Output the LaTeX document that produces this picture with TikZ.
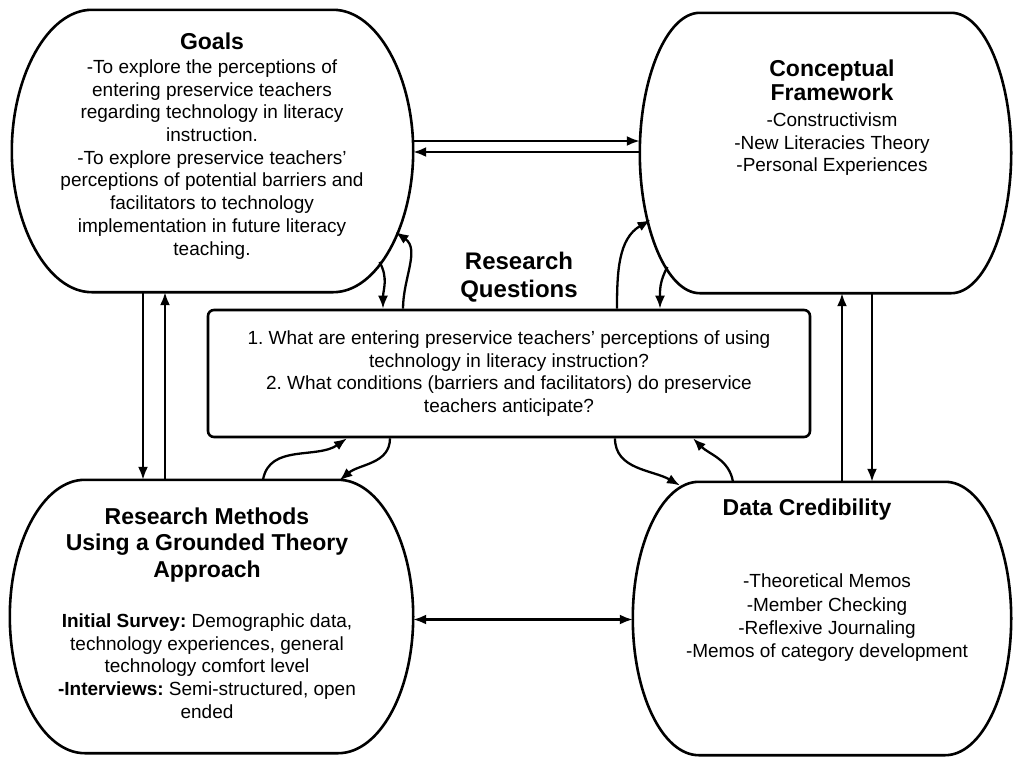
\documentclass[tikz,border=0pt]{standalone}
\usepackage{fontspec}
\setmainfont{Liberation Sans}
\usetikzlibrary{arrows.meta}
\newcommand{\boxhead}{\fontsize{23}{26}\selectfont\bfseries}
% outline of a bubble: #1 node name, #2 length of the rounded part
\newcommand{\drawbubble}[2]{%
	\draw [bubbleline] ([xshift=#2]#1.north west) -- ([xshift=-#2]#1.north east)
		.. controls +(0.55*#2,0) and +(0,75pt) .. (#1.east)
		.. controls +(0,-75pt) and +(0.55*#2,0) .. ([xshift=-#2]#1.south east)
		-- ([xshift=#2]#1.south west)
		.. controls +(-0.55*#2,0) and +(0,-75pt) .. (#1.west)
		.. controls +(0,75pt) and +(-0.55*#2,0) .. cycle;}
\frenchspacing
\begin{document}
\begin{tikzpicture}[>={Latex[length=13pt,width=10pt]}, x=1pt, y=1pt,
	bubble/.style={inner sep=0pt},
	bubbleline/.style={line width=2.6pt},
	qbox/.style={draw, line width=2.6pt, rounded corners=6pt, inner sep=0pt, align=center, font=\fontsize{19}{22.6}\selectfont},
	txt/.style={align=center, inner sep=0pt, font=\fontsize{19}{22.7}\selectfont},
	link/.style={line width=2.3pt}]
		\useasboundingbox (0,0) rectangle (1013,-758);

		\node (goals) [bubble, minimum width=401pt, minimum height=282pt] at (212.5,-151) {};
		\node (frame) [bubble, minimum width=371pt, minimum height=280pt] at (825.5,-153) {};
		\node (methods) [bubble, minimum width=403pt, minimum height=273pt] at (211.5,-616.5) {};
		\node (cred) [bubble, minimum width=378pt, minimum height=273pt] at (822,-618.5) {};
		\drawbubble{goals}{80pt}
		\drawbubble{frame}{60pt}
		\drawbubble{methods}{75pt}
		\drawbubble{cred}{66pt}
		\node (rq) [qbox, minimum width=602pt, minimum height=127pt] at (509,-373.5) {1.\ What are entering preservice teachers’ perceptions of using\\ technology in literacy instruction?\\ 2.\ What conditions (barriers and facilitators) do preservice\\ teachers anticipate?};

		\node (goalstext) [txt] at (212,-146) {{\boxhead Goals}\\[1pt] -To explore the perceptions of\\ entering preservice teachers\\ regarding technology in literacy\\ instruction.\\ -To explore preservice teachers’\\ perceptions of potential barriers and\\ facilitators to technology\\ implementation in future literacy\\ teaching.};
		\node (frametext) [txt] at (832,-118) {{\boxhead Conceptual}\\[1pt] {\boxhead Framework}\\[3pt] -Constructivism\\ -New Literacies Theory\\ -Personal Experiences};
		\node (methodstext) [txt] at (207,-613) {{\boxhead Research Methods}\\[4pt] {\boxhead Using a Grounded Theory}\\[4pt] {\boxhead Approach}\\[27pt] \textbf{Initial Survey:} Demographic data,\\ technology experiences, general\\ technology comfort level\\ \textbf{-Interviews:} Semi-structured, open\\ ended};
		\node (credtitle) [txt] at (807,-510) {\boxhead Data Credibility};
		\node (credtext) [txt, font=\fontsize{19}{23.3}\selectfont] at (827,-618) {-Theoretical Memos\\ -Member Checking\\ -Reflexive Journaling\\ -Memos of category development};
		\node (rqtitle) [txt, font=\fontsize{24}{28}\selectfont\bfseries] at (519,-277) {Research\\ Questions};

		\draw [->,link] ([yshift=10pt]goals.east)--([yshift=10pt]goals.east -| frame.west);
		\draw [->,link] ([yshift=-1pt]goals.east -| frame.west)--([yshift=-1pt]goals.east);
		\draw [->,link] ([xshift=-69.5pt]goals.south)--([xshift=-69.5pt]goals.south |- methods.north);
		\draw [->,link] ([xshift=-47.5pt]goals.south |- methods.north)--([xshift=-47.5pt]goals.south);
		\draw [->,link] ([xshift=16.5pt]frame.south |- cred.north)--([xshift=16.5pt]frame.south);
		\draw [->,link] ([xshift=46.5pt]frame.south)--([xshift=46.5pt]frame.south |- cred.north);
		\draw [<->,link] ([yshift=-3pt]methods.east)--([yshift=-3pt]methods.east -| cred.west);

		\draw [->,link] ([shift={(167pt,-111pt)}]goals.center) to[out=-60,in=90] ([xshift=-126pt]rq.north);
		\draw [->,link] ([xshift=-106pt]rq.north) to[out=90,in=-35] ([shift={(183pt,-81pt)}]goals.center);
		\draw [->,link] ([xshift=108pt]rq.north) to[out=90,in=-150] ([shift={(-175pt,-67pt)}]frame.center);
		\draw [->,link] ([shift={(-158pt,-114pt)}]frame.center) to[out=-120,in=90] ([xshift=151pt]rq.north);
		\draw [->,link] ([xshift=51.5pt]methods.north) to[out=80,in=-145] ([xshift=-162pt]rq.south);
		\draw [->,link] ([xshift=-119pt]rq.south) to[out=-90,in=40] ([shift={(128pt,136pt)}]methods.center);
		\draw [->,link] ([xshift=106pt]rq.south) to[out=-90,in=150] ([shift={(-142pt,133pt)}]cred.center);
		\draw [->,link] ([xshift=-89pt]cred.north) to[out=100,in=-45] ([xshift=184pt]rq.south);
	\end{tikzpicture}
\end{document}
